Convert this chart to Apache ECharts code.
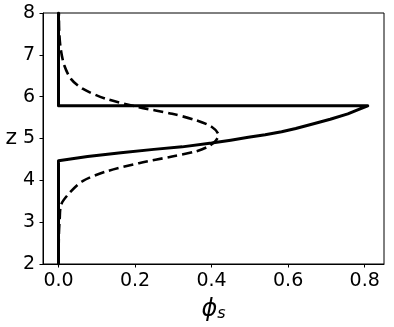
<!DOCTYPE html>
<html>
<head>
<meta charset="utf-8">
<script src="https://cdn.jsdelivr.net/npm/echarts@6/dist/echarts.min.js"></script>
<style>
  html, body { margin: 0; padding: 0; background: #fff; }
  #chart { width: 394px; height: 327px; }
</style>
</head>
<body>
<div id="chart"></div>
<script>
// phi_s values and heights z
var solidPhi = [0, 0, 0.076, 0.163, 0.249, 0.323, 0.40, 0.45, 0.496, 0.54, 0.583, 0.62, 0.669, 0.71, 0.756, 0.78, 0.808, 0, 0];
var solidZ   = [2, 4.47, 4.57, 4.66, 4.74, 4.80, 4.89, 4.96, 5.03, 5.09, 5.16, 5.24, 5.36, 5.46, 5.59, 5.68, 5.78, 5.78, 8];

var dashPhi = [0, 0.001, 0.003, 0.007, 0.029, 0.063, 0.124, 0.21, 0.297, 0.358, 0.392, 0.41, 0.418, 0.40, 0.358, 0.297, 0.21, 0.124, 0.063, 0.033, 0.015, 0.006, 0.002, 0.001];
var dashZ   = [2.0, 2.7, 3.05, 3.42, 3.70, 3.98, 4.21, 4.41, 4.57, 4.69, 4.81, 4.94, 5.08, 5.28, 5.44, 5.59, 5.75, 5.95, 6.19, 6.42, 6.75, 7.13, 7.53, 8];

var xTicks = [0, 0.2, 0.4, 0.6, 0.8];

function pairs(xs, ys) {
  return xs.map(function (x, i) { return [x, ys[i]]; });
}

var font = 'DejaVu Sans';
var chart = echarts.init(document.getElementById('chart'));
chart.setOption({
  animation: false,
  grid: {
    left: 43, right: 10, top: 13, bottom: 60,
    show: true, borderColor: '#000', borderWidth: 1
  },
  xAxis: {
    type: 'value',
    min: -0.0405, max: 0.8505,
    splitLine: { show: false },
    axisLine: { show: true, onZero: false, lineStyle: { color: '#000', width: 1 } },
    axisTick: { show: true, length: 3.5, customValues: xTicks, lineStyle: { color: '#000' } },
    axisLabel: {
      customValues: xTicks, margin: 8, color: '#000', fontFamily: font, fontSize: 19,
      formatter: function (v) { return v.toFixed(1); }
    },
    name: '{a|ϕ}{b|s}',
    nameLocation: 'middle',
    nameGap: 34,
    nameTextStyle: {
      rich: {
        a: { fontFamily: font, fontStyle: 'italic', fontSize: 24, color: '#000' },
        b: { fontFamily: font, fontStyle: 'italic', fontSize: 16, color: '#000', padding: [8, 0, 0, 0] }
      }
    }
  },
  yAxis: {
    type: 'value',
    min: 2, max: 8, interval: 1,
    splitLine: { show: false },
    axisLine: { show: true, onZero: false, lineStyle: { color: '#000', width: 1 } },
    axisTick: { show: true, length: 3.5, lineStyle: { color: '#000' } },
    axisLabel: { margin: 8, color: '#000', fontFamily: font, fontSize: 19 },
    name: 'z',
    nameLocation: 'middle',
    nameRotate: 0,
    nameGap: 22,
    nameTextStyle: { fontFamily: font, fontSize: 22, color: '#000' }
  },
  series: [
    {
      name: 'solid',
      type: 'line',
      data: pairs(solidPhi, solidZ),
      symbol: 'none',
      lineStyle: { color: '#000', width: 3, join: 'round', cap: 'round' },
      z: 3
    },
    {
      name: 'dashed',
      type: 'line',
      data: pairs(dashPhi, dashZ),
      symbol: 'none',
      smooth: 0.3,
      lineStyle: { color: '#000', width: 2.6, type: [10, 5] },
      z: 2
    }
  ]
});
</script>
</body>
</html>
